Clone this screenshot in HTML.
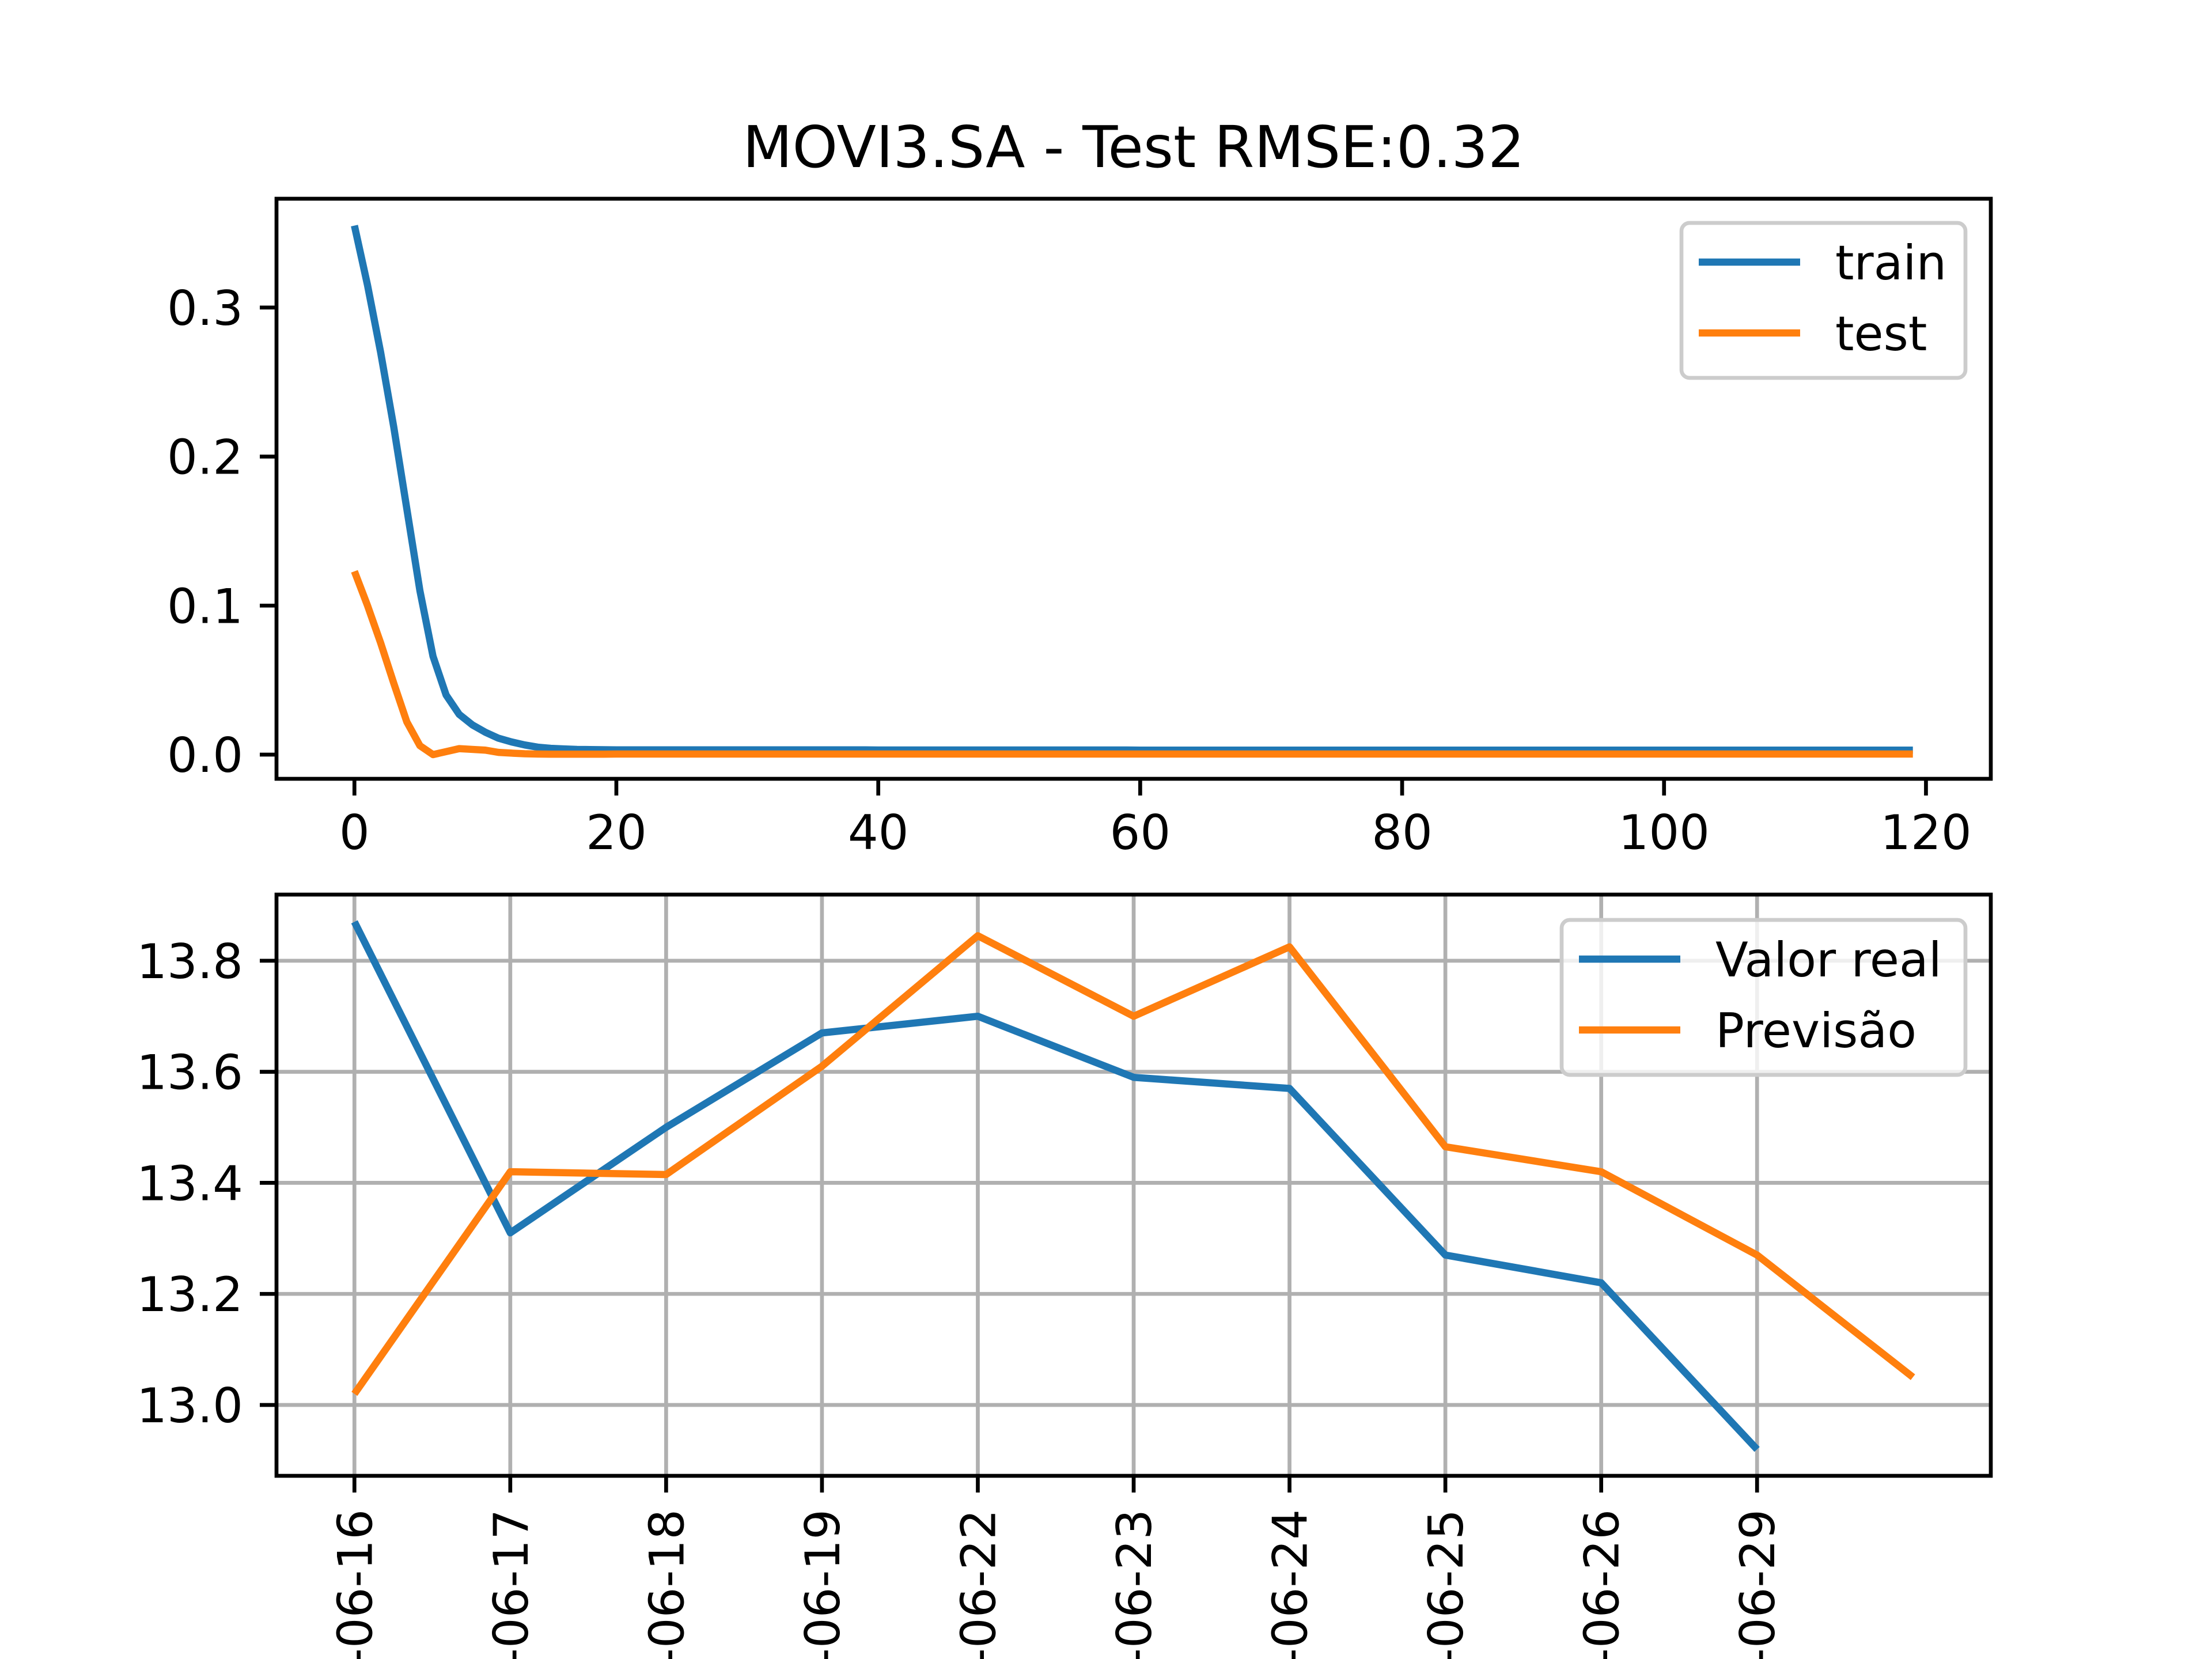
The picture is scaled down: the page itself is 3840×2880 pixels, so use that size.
<!DOCTYPE html>
<html><head><meta charset="utf-8"><style>html,body{margin:0;padding:0;background:#fff}svg{display:block}text{font-family:"DejaVu Sans","Liberation Sans",sans-serif;fill:#000}</style></head>
<body>
<svg id="fig" width="3840" height="2880" viewBox="0 0 3840 2880" xmlns="http://www.w3.org/2000/svg">
<rect width="3840" height="2880" fill="#fff"/>
<text x="1968" y="290" font-size="100" text-anchor="middle">MOVI3.SA - Test RMSE:0.32</text>
<g id="topAxes"></g>
<g id="botAxes"></g>
</svg>
<script>
const lossTrain=[0.355,0.315,0.27,0.22,0.165,0.11,0.066,0.04,0.027,0.02,0.015,0.011,0.0085,0.0065,0.005,0.0042,0.0038,0.0035,0.0034,0.0033,0.0032,0.0032,0.0032,0.0032,0.0032,0.0032,0.0032,0.0032,0.0032,0.0032,0.0032,0.0032,0.0032,0.0032,0.0032,0.0032,0.0032,0.0032,0.0032,0.0032,0.0031,0.0031,0.0031,0.0031,0.0031,0.0031,0.0031,0.0031,0.0031,0.0031,0.0031,0.0031,0.0031,0.0031,0.0031,0.0031,0.0031,0.0031,0.0031,0.0031,0.003,0.003,0.003,0.003,0.003,0.003,0.003,0.003,0.003,0.003,0.003,0.003,0.003,0.003,0.003,0.003,0.003,0.003,0.003,0.003,0.003,0.003,0.003,0.003,0.003,0.003,0.003,0.003,0.003,0.003,0.003,0.003,0.003,0.003,0.003,0.003,0.003,0.003,0.003,0.003,0.003,0.003,0.003,0.003,0.003,0.003,0.003,0.003,0.003,0.003,0.003,0.003,0.003,0.003,0.003,0.003,0.003,0.003,0.003,0.003];
const lossTest=[0.123,0.1,0.075,0.048,0.022,0.006,0.0,0.002,0.004,0.0035,0.003,0.0015,0.001,0.0006,0.0004,0.0003,0.0003,0.0003,0.0003,0.0003,0.0004,0.0004,0.0004,0.0004,0.0004,0.0004,0.0004,0.0004,0.0004,0.0004,0.0004,0.0004,0.0004,0.0004,0.0004,0.0004,0.0004,0.0004,0.0004,0.0004,0.0004,0.0004,0.0004,0.0004,0.0004,0.0004,0.0004,0.0004,0.0004,0.0004,0.0004,0.0004,0.0004,0.0004,0.0004,0.0004,0.0004,0.0004,0.0004,0.0004,0.0004,0.0004,0.0004,0.0004,0.0004,0.0004,0.0004,0.0004,0.0004,0.0004,0.0004,0.0004,0.0004,0.0004,0.0004,0.0004,0.0004,0.0004,0.0004,0.0004,0.0004,0.0004,0.0004,0.0004,0.0004,0.0004,0.0004,0.0004,0.0004,0.0004,0.0004,0.0004,0.0004,0.0004,0.0004,0.0004,0.0004,0.0004,0.0004,0.0004,0.0004,0.0004,0.0004,0.0004,0.0004,0.0004,0.0004,0.0004,0.0004,0.0004,0.0004,0.0004,0.0004,0.0004,0.0004,0.0004,0.0004,0.0004,0.0004,0.0004];
const topXTicks=[0,20,40,60,80,100,120];
const topYTicks=[0.0,0.1,0.2,0.3];
const dates=["2020-06-16","2020-06-17","2020-06-18","2020-06-19","2020-06-22","2020-06-23","2020-06-24","2020-06-25","2020-06-26","2020-06-29"];
const realVals=[13.87,13.31,13.50,13.67,13.70,13.59,13.57,13.27,13.22,12.92];
const predVals=[13.02,13.42,13.415,13.61,13.845,13.70,13.825,13.465,13.42,13.27,13.05];
const botYTicks=[13.0,13.2,13.4,13.6,13.8];

const NS="http://www.w3.org/2000/svg";
function mk(p,t,a){const e=document.createElementNS(NS,t);for(const k in a)e.setAttribute(k,a[k]);p.appendChild(e);return e;}
const L=480,R=3456,BLUE="#1f77b4",ORANGE="#ff7f0e";

const topG=document.getElementById('topAxes');
const tT=345,tB=1352;
const tx=v=>L+(v+5.95)/130.9*(R-L);
const ty=v=>1310-v*2587;
topXTicks.forEach(v=>{
  const l=mk(topG,'line',{x1:tx(v),x2:tx(v),y1:tB,y2:tB+29,stroke:'#000','stroke-width':6.7});
  
  
  const t=mk(topG,'text',{x:tx(v),y:tB+122,'font-size':83,'text-anchor':'middle'});t.textContent=v;
  
  
});
topYTicks.forEach(v=>{
  const l=mk(topG,'line',{x1:L-29,x2:L,y1:ty(v),y2:ty(v),stroke:'#000','stroke-width':6.7});
  
  
  const t=mk(topG,'text',{x:L-58,y:ty(v)+30,'font-size':83,'text-anchor':'end'});t.textContent=v.toFixed(1);
  
  
});
[[lossTrain,BLUE,'train-line'],[lossTest,ORANGE,'test-line']].forEach(([d,c,n])=>{
  const p=mk(topG,'polyline',{points:d.map((v,i)=>tx(i)+','+ty(v)).join(' '),fill:'none',stroke:c,'stroke-width':12.5,'stroke-linejoin':'round'});
  
  
});
const tf=mk(topG,'rect',{x:L,y:tT,width:R-L,height:tB-tT,fill:'none',stroke:'#000','stroke-width':6.7});


const lg1=mk(topG,'g',{});


mk(lg1,'rect',{x:2919,y:387,width:493,height:269,rx:14,fill:'#fff','fill-opacity':0.8,stroke:'#ccc','stroke-width':6.7});
[['train',BLUE,455],['test',ORANGE,578]].forEach(([s,c,y])=>{
  const g=mk(lg1,'g',{});
  
  
  mk(g,'line',{x1:2949,x2:3125,y1:y,y2:y,stroke:c,'stroke-width':12.5});
  const t=mk(g,'text',{x:3186,y:y+30,'font-size':83});t.textContent=s;
});

const botG=document.getElementById('botAxes');
const bT=1553,bB=2562;
const bx=i=>L+(i+0.5)*270.55;
const by=v=>2439-(v-13.0)/0.2*192.8;
dates.forEach((d,i)=>{
  const g=mk(botG,'line',{x1:bx(i),x2:bx(i),y1:bT,y2:bB,stroke:'#b0b0b0','stroke-width':6.7});
  
  
  const l=mk(botG,'line',{x1:bx(i),x2:bx(i),y1:bB,y2:bB+29,stroke:'#000','stroke-width':6.7});
  
  
  const t=mk(botG,'text',{x:0,y:0,'font-size':83,'text-anchor':'end',transform:`translate(${bx(i)+30},${bB+58}) rotate(-90)`});t.textContent=d;
  
  
});
botYTicks.forEach(v=>{
  const g=mk(botG,'line',{x1:L,x2:R,y1:by(v),y2:by(v),stroke:'#b0b0b0','stroke-width':6.7});
  
  
  const l=mk(botG,'line',{x1:L-29,x2:L,y1:by(v),y2:by(v),stroke:'#000','stroke-width':6.7});
  
  
  const t=mk(botG,'text',{x:L-58,y:by(v)+30,'font-size':83,'text-anchor':'end'});t.textContent=v.toFixed(1);
  
  
});
[[realVals,BLUE,'real-value-line'],[predVals,ORANGE,'prediction-line']].forEach(([d,c,n])=>{
  const p=mk(botG,'polyline',{points:d.map((v,i)=>bx(i)+','+by(v)).join(' '),fill:'none',stroke:c,'stroke-width':12.5,'stroke-linejoin':'round'});
  
  
});
const bf=mk(botG,'rect',{x:L,y:bT,width:R-L,height:bB-bT,fill:'none',stroke:'#000','stroke-width':6.7});


const lg2=mk(botG,'g',{});


mk(lg2,'rect',{x:2711,y:1597,width:701,height:269,rx:14,fill:'#fff','fill-opacity':0.8,stroke:'#ccc','stroke-width':6.7});
[['Valor real',BLUE,1665],['Previsão',ORANGE,1788]].forEach(([s,c,y])=>{
  const g=mk(lg2,'g',{});
  
  
  mk(g,'line',{x1:2741,x2:2917,y1:y,y2:y,stroke:c,'stroke-width':12.5});
  const t=mk(g,'text',{x:2978,y:y+30,'font-size':83});t.textContent=s;
});
</script>
</body></html>
